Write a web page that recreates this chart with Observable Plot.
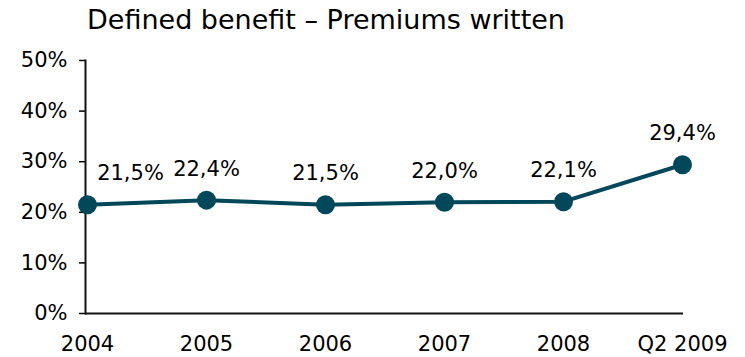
<!DOCTYPE html>
<html>
<head>
<meta charset="utf-8">
<script src="https://cdn.jsdelivr.net/npm/d3@7"></script>
<script src="https://cdn.jsdelivr.net/npm/@observablehq/plot@0.6"></script>
<style>
  html, body { margin: 0; padding: 0; background: #fff; }
  #title {
    font-family: "DejaVu Sans", sans-serif;
    font-size: 27px;
    line-height: 40px;
    height: 40px;
    padding-left: 87px;
    color: #000;
    white-space: nowrap;
  }
  #chart svg { display: block; }
</style>
</head>
<body>
<div id="title">Defined benefit – Premiums written</div>
<div id="chart"></div>
<script>
// Share of premiums written, defined benefit (%)
const categories = ["2004", "2005", "2006", "2007", "2008", "Q2 2009"];
const values = [21.5, 22.4, 21.5, 22.0, 22.1, 29.4];
const yTicks = [0, 10, 20, 30, 40, 50];

const lineColor = "#02475a";
const data = categories.map((c, i) => ({category: c, value: values[i]}));
const pct = v => v.toFixed(1).replace(".", ",") + "%";

const chart = Plot.plot({
  width: 745,
  height: 317,
  marginLeft: 85,
  marginRight: 62,
  marginTop: 20,
  marginBottom: 44,
  style: {fontFamily: "DejaVu Sans, sans-serif", fontSize: "21px", color: "#000", background: "#fff"},
  x: {type: "point", domain: categories, padding: 0},
  y: {domain: [0, 50]},
  marks: [
    Plot.axisY({ticks: yTicks, tickFormat: d => d + "%", tickSize: 6, tickPadding: 12, label: null, fontSize: 21, strokeWidth: 1.5}),
    Plot.axisX({tickSize: 0, tickPadding: 23, label: null, fontSize: 21}),
    Plot.frame({anchor: "left", stroke: "#111", strokeWidth: 2}),
    Plot.ruleY([0], {stroke: "#111", strokeWidth: 2}),
    Plot.line(data, {x: "category", y: "value", stroke: lineColor, strokeWidth: 4}),
    Plot.dot(data, {x: "category", y: "value", r: 9.5, fill: lineColor, stroke: "none"}),
    Plot.text(data, {filter: (d, i) => i === 0, x: "category", y: "value", text: d => pct(d.value), dx: 43, dy: -31, fontSize: 21, fill: "#000"}),
    Plot.text(data, {filter: (d, i) => i > 0, x: "category", y: "value", text: d => pct(d.value), dy: -31, fontSize: 21, fill: "#000"})
  ]
});
document.getElementById("chart").appendChild(chart);
</script>
</body>
</html>
